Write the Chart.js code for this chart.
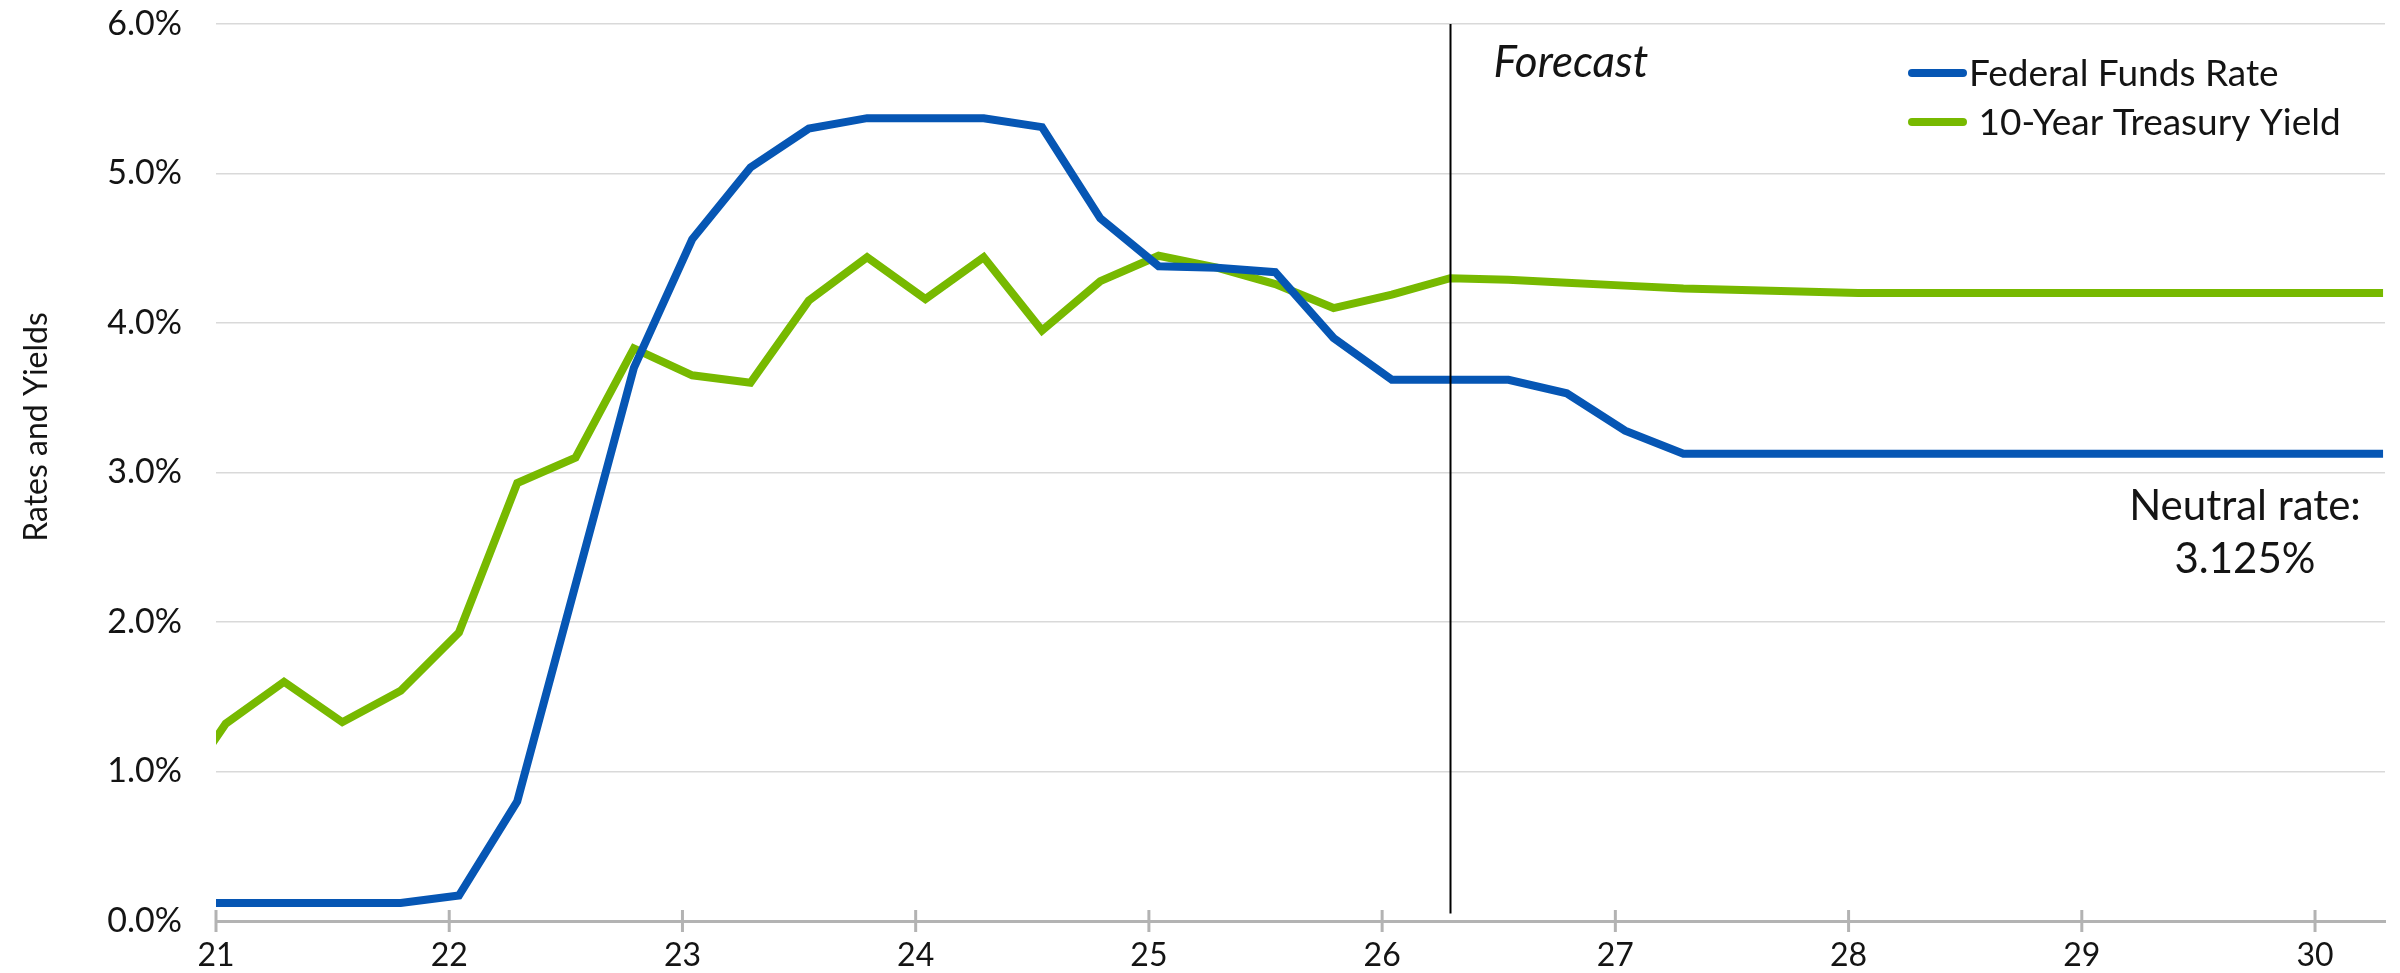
<!DOCTYPE html>
<html>
<head>
<meta charset="utf-8">
<script src="https://cdn.jsdelivr.net/npm/chart.js@4/dist/chart.umd.min.js"></script>
<style>
  html, body { margin: 0; padding: 0; background: #fff; }
  #wrap { width: 2400px; height: 973px; }
</style>
</head>
<body>
<div id="wrap"><canvas id="chart"></canvas></div>
<script>
// quarters, 2-digit year + quarter
const quarters = [
  '20Q4',
  '21Q1', '21Q2', '21Q3', '21Q4',
  '22Q1', '22Q2', '22Q3', '22Q4',
  '23Q1', '23Q2', '23Q3', '23Q4',
  '24Q1', '24Q2', '24Q3', '24Q4',
  '25Q1', '25Q2', '25Q3', '25Q4',
  '26Q1', '26Q2', '26Q3', '26Q4',
  '27Q1', '27Q2', '27Q3', '27Q4',
  '28Q1', '28Q2', '28Q3', '28Q4',
  '29Q1', '29Q2', '29Q3', '29Q4',
  '30Q1', '30Q2'
]

const fedFunds = [
  0.12,
  0.12, 0.12, 0.12, 0.12,
  0.17, 0.80, 2.25, 3.70,
  4.56, 5.04, 5.30, 5.37,
  5.37, 5.37, 5.31, 4.70,
  4.38, 4.37, 4.34, 3.90,
  3.62, 3.62, 3.62, 3.53,
  3.28, 3.125, 3.125, 3.125,
  3.125, 3.125, 3.125, 3.125,
  3.125, 3.125, 3.125, 3.125,
  3.125, 3.125
]

const treasury10y = [
  0.75,
  1.32, 1.60, 1.33, 1.54,
  1.93, 2.93, 3.10, 3.83,
  3.65, 3.60, 4.15, 4.44,
  4.16, 4.44, 3.95, 4.28,
  4.45, 4.37, 4.26, 4.10,
  4.19, 4.30, 4.29, 4.27,
  4.25, 4.23, 4.22, 4.21,
  4.20, 4.20, 4.20, 4.20,
  4.20, 4.20, 4.20, 4.20,
  4.20, 4.20
]

const seriesLabels = ['Federal Funds Rate', '10-Year Treasury Yield']
const yTicks = [0, 1, 2, 3, 4, 5, 6]
const xTicks = [21, 22, 23, 24, 25, 26, 27, 28, 29, 30]
const forecastStart = '26Q2'
const neutralRate = ['Neutral rate:', '3.125%']

const BLUE = '#0656B4'
const GREEN = '#77B900'
const TEXT = '#141414'
const FONT = 'Lato, "Open Sans", sans-serif'

// quarter -> decimal year (middle of the quarter's first month)
function qx(q) {
  const yy = parseInt(q.slice(0, 2), 10)
  const n = parseInt(q.slice(3), 10)
  return yy + (n - 1) / 4 + 1 / 24
}

const toPoints = (vals) => vals.map((v, i) => ({ x: qx(quarters[i]), y: v }))

const extras = {
  id: 'extras',
  afterDatasetsDraw(chart) {
    const { ctx, chartArea, scales } = chart
    const x = scales.x, y = scales.y
    ctx.save()

    // x-axis tick marks crossing the axis line
    ctx.strokeStyle = '#b3b3b3'
    ctx.lineWidth = 3
    xTicks.forEach(t => {
      const px = x.getPixelForValue(t)
      ctx.beginPath()
      ctx.moveTo(px, chartArea.bottom - 11)
      ctx.lineTo(px, chartArea.bottom + 11)
      ctx.stroke()
    })

    // forecast divider
    const fx = Math.round(x.getPixelForValue(qx(forecastStart))) + 0.5
    ctx.strokeStyle = '#000'
    ctx.lineWidth = 2
    ctx.beginPath()
    ctx.moveTo(fx, y.getPixelForValue(6))
    ctx.lineTo(fx, y.getPixelForValue(0.05))
    ctx.stroke()

    ctx.fillStyle = TEXT
    ctx.textBaseline = 'alphabetic'
    ctx.textAlign = 'left'
    ctx.font = 'italic 44px ' + FONT
    ctx.fillText('Forecast', fx + 43, 77)

    // neutral rate note
    ctx.font = '42px ' + FONT
    ctx.textAlign = 'center'
    ctx.fillText(neutralRate[0], 2245, 520)
    ctx.fillText(neutralRate[1], 2245, 573)

    // legend
    const colors = [BLUE, GREEN]
    const rows = [73, 122]
    ctx.lineCap = 'round'
    ctx.lineWidth = 8
    ctx.font = '37px ' + FONT
    ctx.textAlign = 'left'
    seriesLabels.forEach((lab, i) => {
      ctx.strokeStyle = colors[i]
      ctx.beginPath()
      ctx.moveTo(1912, rows[i])
      ctx.lineTo(1963, rows[i])
      ctx.stroke()
      ctx.fillText(i === 0 ? lab : ' ' + lab, 1969, rows[i] + 13)
    })

    // y axis title
    ctx.font = '32px ' + FONT
    ctx.translate(47, 427)
    ctx.rotate(-Math.PI / 2)
    ctx.textAlign = 'center'
    ctx.fillText('Rates and Yields', 0, 0)

    ctx.restore()
  }
}

new Chart(document.getElementById('chart'), {
  type: 'line',
  data: {
    datasets: [
      {
        label: seriesLabels[0],
        data: toPoints(fedFunds),
        borderColor: BLUE,
        borderWidth: 8,
        pointRadius: 0,
        clip: { left: 0, top: false, right: 4, bottom: false }
      },
      {
        label: seriesLabels[1],
        data: toPoints(treasury10y),
        borderColor: GREEN,
        borderWidth: 8,
        pointRadius: 0,
        clip: { left: 0, top: false, right: 4, bottom: false }
      }
    ]
  },
  options: {
    responsive: true,
    maintainAspectRatio: false,
    animation: false,
    layout: { padding: { top: 24, right: 15, left: 0, bottom: 0 } },
    plugins: {
      legend: { display: false },
      tooltip: { enabled: false }
    },
    scales: {
      x: {
        type: 'linear',
        min: 21,
        max: 30.3,
        afterBuildTicks: (s) => { s.ticks = xTicks.map(v => ({ value: v })) },
        afterFit: (s) => { s.height = 52; s.paddingLeft = 0; s.paddingRight = 0 },
        grid: { display: false, drawTicks: false },
        border: { display: true, color: '#b3b3b3', width: 3 },
        ticks: {
          padding: 15,
          color: TEXT,
          font: { family: FONT, size: 32 },
          callback: (v) => String(v)
        }
      },
      y: {
        min: 0,
        max: 6,
        afterBuildTicks: (s) => { s.ticks = yTicks.map(v => ({ value: v })) },
        afterFit: (s) => { s.width = 216; s.paddingTop = 0; s.paddingBottom = 0 },
        grid: { color: '#d9d9d9', lineWidth: 1.5, drawTicks: false },
        border: { display: false },
        ticks: {
          padding: 34,
          color: TEXT,
          font: { family: FONT, size: 34 },
          callback: (v) => v.toFixed(1) + '%'
        }
      }
    }
  },
  plugins: [extras]
})
</script>
</body>
</html>
